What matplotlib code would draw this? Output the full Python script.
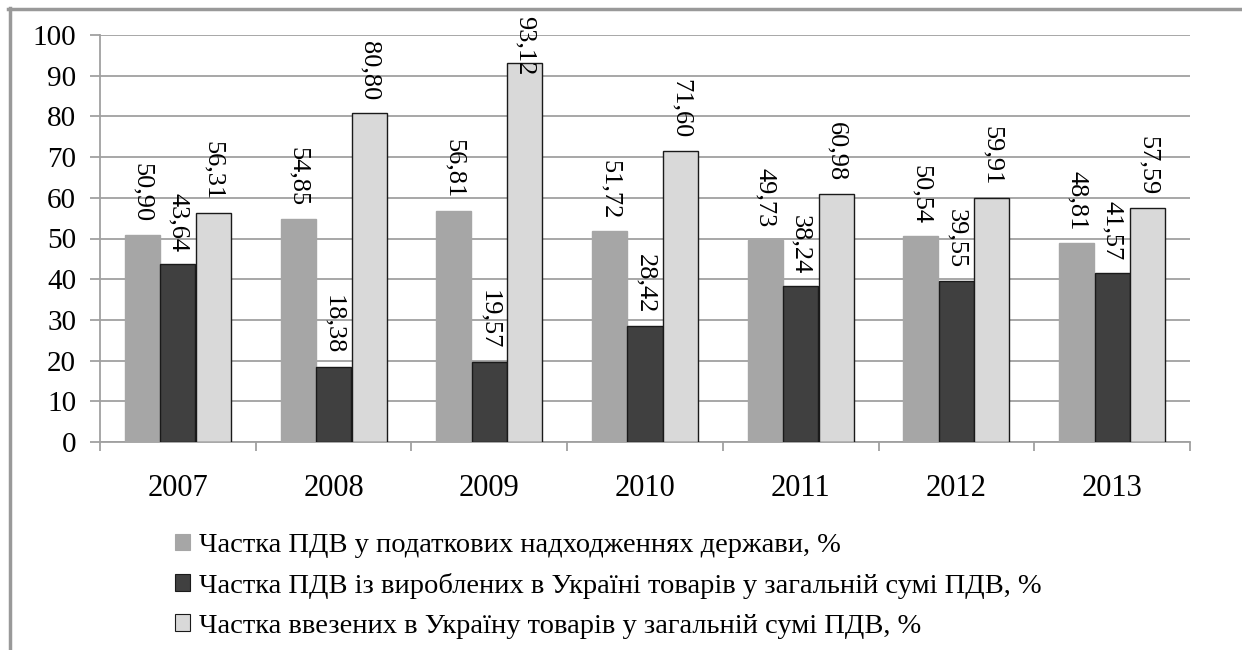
import matplotlib
matplotlib.use("Agg")
import matplotlib.pyplot as plt
from matplotlib.patches import Patch
from matplotlib.lines import Line2D
import numpy as np

plt.rcParams['font.family'] = ['Liberation Serif', 'DejaVu Serif']

years = ['2007', '2008', '2009', '2010', '2011', '2012', '2013']
share_tax = [50.90, 54.85, 56.81, 51.72, 49.73, 50.54, 48.81]
share_domestic = [43.64, 18.38, 19.57, 28.42, 38.24, 39.55, 41.57]
share_import = [56.31, 80.80, 93.12, 71.60, 60.98, 59.91, 57.59]
series_names = [
    'Частка ПДВ у податкових надходженнях держави, %',
    'Частка ПДВ із вироблених в Україні товарів у загальній сумі ПДВ, %',
    'Частка ввезених в Україну товарів у загальній сумі ПДВ, %',
]
y_ticks = [0, 10, 20, 30, 40, 50, 60, 70, 80, 90, 100]

W, H = 1242, 650
fig = plt.figure(figsize=(W / 100, H / 100), dpi=100)
ax = fig.add_axes([100 / W, 1 - 442 / H, (1190 - 100) / W, (442 - 35) / H])

x = np.arange(len(years))
bw = 0.225
off = 0.228
series = [share_tax, share_domestic, share_import]
colors = ['#a6a6a6', '#404040', '#d9d9d9']
edges = ['#a6a6a6', '#1a1a1a', '#1a1a1a']
labels = []
for i, (vals, c, e) in enumerate(zip(series, colors, edges)):
    bars = ax.bar(x + (i - 1) * off, vals, width=bw, color=c, edgecolor=e,
                  linewidth=1.0, zorder=3)
    for b, v in zip(bars, vals):
        t = ax.annotate(f'{v:.2f}'.replace('.', ','),
                        (b.get_x() + b.get_width() / 2, v),
                        xytext=(0, 9), textcoords='offset points',
                        rotation=270, ha='center', va='bottom',
                        fontsize=19, color='black', zorder=4)
        labels.append(t)

ax.set_xlim(-0.5, len(years) - 0.5)
ax.set_ylim(0, 100)
ax.set_yticks(y_ticks)
ax.set_yticklabels([str(t) for t in y_ticks], fontsize=21)
ax.yaxis.grid(True, color='#a0a0a0', linewidth=1.3, zorder=0)
ax.tick_params(axis='y', length=7.2, color='#a0a0a0', width=1.3, pad=10)

ax.set_xticks(x)
ax.set_xticklabels(years, fontsize=22)
ax.tick_params(axis='x', which='major', length=0, pad=23)
ax.set_xticks(np.arange(-0.5, len(years)), minor=True)
ax.tick_params(axis='x', which='minor', length=6.5, color='#a0a0a0', width=1.3)

for s in ['top', 'right']:
    ax.spines[s].set_visible(False)
for s in ['left', 'bottom']:
    ax.spines[s].set_color('#a0a0a0')
    ax.spines[s].set_linewidth(1.3)

handles = [Patch(facecolor=c, edgecolor=('#a6a6a6' if i == 0 else '#1a1a1a'), linewidth=0.8)
           for i, c in enumerate(colors)]
fig.legend(handles, series_names, loc='upper left',
           bbox_to_anchor=(175 / W, 1 - 533 / H), frameon=False,
           fontsize=20.5, handlelength=0.53, handleheight=0.53, handletextpad=0.32,
           labelspacing=0.52, borderaxespad=0, borderpad=0)

# keep data labels inside the chart frame (as the original does)
fig.canvas.draw()
r = fig.canvas.get_renderer()
top_limit = H - 16
for t in labels:
    bb = t.get_window_extent(r)
    if bb.y1 > top_limit:
        dy_pt = (bb.y1 - top_limit) * 72 / fig.dpi
        t.xyann = (0, 9 - dy_pt)

# outer frame (left and top edges)
fig.add_artist(Line2D([9.5 / W, 9.5 / W], [0, 1 - 8 / H], color='#999999', linewidth=2.5,
                      transform=fig.transFigure))
fig.add_artist(Line2D([8 / W, 1], [1 - 9 / H, 1 - 9 / H], color='#999999', linewidth=2.5,
                      transform=fig.transFigure))

fig.savefig('out.png', dpi=100, facecolor='white')
